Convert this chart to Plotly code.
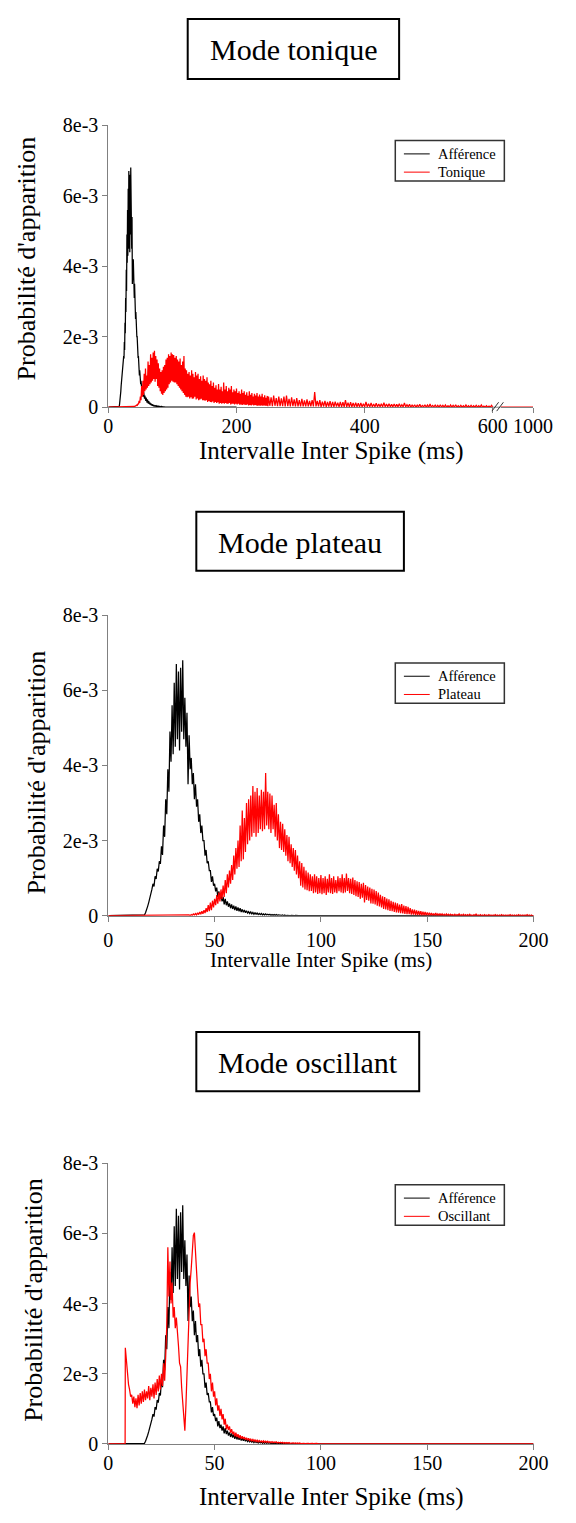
import plotly.graph_objects as go

# ---------------- DATA (probability values in units of 1e-3) ----------------
# Afferent ISI histogram: two readings per 1-ms bin (at k ms and k+0.5 ms)
aff_ms = list(range(17, 91))
aff_a = [0.02, 0.15, 0.35, 0.6, 0.85, 1.05, 1.25, 1.45, 1.85, 2.4,
         3.1, 3.9, 4.9, 5.6, 6.2, 6.7, 6.5, 6.6, 6.8, 5.8,
         5.4, 4.8, 4.2, 3.8, 3.5, 3.1, 2.7, 2.4, 2.0, 1.75,
         1.45, 1.2, 1.05, 0.85, 0.75, 0.65, 0.55, 0.5, 0.45, 0.38,
         0.33, 0.3, 0.27, 0.25, 0.22, 0.2, 0.17, 0.15, 0.13, 0.11,
         0.1, 0.09, 0.08, 0.07, 0.06, 0.06, 0.05, 0.05, 0.04, 0.04,
         0.03, 0.03, 0.03, 0.02, 0.02, 0.02, 0.02, 0.01, 0.01, 0.01,
         0.01, 0.01, 0.0, 0.0]
aff_b = [0.08, 0.25, 0.45, 0.7, 0.78, 0.98, 1.18, 1.38, 1.62, 2.1,
         2.7, 3.3, 4.1, 4.3, 4.5, 4.7, 4.4, 4.9, 4.7, 4.5,
         3.5, 3.9, 3.5, 3.1, 2.9, 2.5, 2.2, 2.0, 1.6, 1.4,
         1.2, 0.9, 0.8, 0.65, 0.5, 0.45, 0.38, 0.3, 0.28, 0.24,
         0.2, 0.18, 0.15, 0.13, 0.12, 0.1, 0.09, 0.08, 0.07, 0.06,
         0.05, 0.04, 0.04, 0.03, 0.03, 0.02, 0.02, 0.02, 0.02, 0.01,
         0.01, 0.01, 0.01, 0.01, 0.01, 0.0, 0.0, 0.0, 0.0, 0.0,
         0.0, 0.0, 0.0, 0.0]

# Tonic mode: two readings per 2-ms bin (40-248 ms), then per 4-ms bin (250-598 ms)
ton_ms = list(range(40, 250, 2))
ton_a = [0.0, 0.03, 0.06, 0.1, 0.18, 0.3, 0.6, 0.75, 0.95, 1.1,
         0.9, 1.3, 1.2, 1.5, 1.4, 1.55, 1.6, 1.45, 1.35, 1.25,
         1.1, 1.0, 1.05, 1.15, 1.2, 1.35, 1.4, 1.5, 1.45, 1.55,
         1.5, 1.48, 1.4, 1.45, 1.35, 1.3, 1.38, 1.2, 1.3, 1.45,
         1.1, 1.05, 0.95, 1.0, 0.9, 1.05, 0.95, 0.85, 1.0, 0.9,
         0.95, 0.8, 0.88, 0.75, 0.9, 0.8, 0.75, 0.85, 0.7, 0.65,
         0.75, 0.6, 0.7, 0.55, 0.62, 0.5, 0.66, 0.5, 0.58, 0.45,
         0.7, 0.5, 0.6, 0.45, 0.55, 0.5, 0.6, 0.42, 0.5, 0.45,
         0.53, 0.4, 0.45, 0.38, 0.5, 0.4, 0.45, 0.35, 0.42, 0.32,
         0.45, 0.35, 0.4, 0.3, 0.38, 0.33, 0.4, 0.3, 0.36, 0.3,
         0.38, 0.28, 0.34, 0.27, 0.32]
ton_b = [0.02, 0.05, 0.04, 0.08, 0.12, 0.2, 0.3, 0.35, 0.45, 0.5,
         0.55, 0.6, 0.65, 0.7, 0.75, 0.8, 0.72, 0.8, 0.6, 0.55,
         0.45, 0.38, 0.35, 0.4, 0.45, 0.5, 0.55, 0.65, 0.7, 0.75,
         0.72, 0.7, 0.7, 0.65, 0.6, 0.55, 0.5, 0.45, 0.4, 0.35,
         0.3, 0.28, 0.3, 0.25, 0.28, 0.24, 0.25, 0.3, 0.22, 0.25,
         0.2, 0.22, 0.24, 0.2, 0.2, 0.18, 0.2, 0.15, 0.18, 0.15,
         0.14, 0.16, 0.12, 0.15, 0.12, 0.14, 0.1, 0.12, 0.1, 0.12,
         0.1, 0.12, 0.1, 0.1, 0.12, 0.08, 0.1, 0.1, 0.08, 0.1,
         0.08, 0.1, 0.07, 0.08, 0.06, 0.08, 0.07, 0.06, 0.08, 0.05,
         0.06, 0.05, 0.07, 0.05, 0.06, 0.05, 0.04, 0.05, 0.04, 0.05,
         0.04, 0.05, 0.04, 0.04, 0.03]
ton2_ms = list(range(250, 600, 4))
ton2_a = [0.3, 0.28, 0.33, 0.26, 0.3, 0.25, 0.3, 0.33, 0.24, 0.28,
          0.22, 0.26, 0.2, 0.24, 0.19, 0.22, 0.18, 0.2, 0.43, 0.18,
          0.2, 0.16, 0.18, 0.15, 0.17, 0.15, 0.16, 0.13, 0.15, 0.14,
          0.2, 0.13, 0.14, 0.12, 0.13, 0.11, 0.12, 0.1, 0.15, 0.1,
          0.12, 0.09, 0.11, 0.09, 0.1, 0.13, 0.09, 0.1, 0.08, 0.09,
          0.08, 0.1, 0.07, 0.12, 0.07, 0.08, 0.06, 0.07, 0.06, 0.08,
          0.05, 0.07, 0.06, 0.09, 0.05, 0.06, 0.05, 0.07, 0.05, 0.06,
          0.04, 0.06, 0.05, 0.07, 0.04, 0.05, 0.04, 0.06, 0.04, 0.05,
          0.04, 0.05, 0.04, 0.06, 0.03, 0.04, 0.03, 0.05]
ton2_b = [0.04, 0.03, 0.04, 0.03, 0.03, 0.03, 0.02, 0.03, 0.02, 0.03,
          0.02, 0.02, 0.02, 0.02, 0.02, 0.02, 0.02, 0.02, 0.02, 0.02,
          0.01, 0.02, 0.01, 0.02, 0.01, 0.01, 0.02, 0.01, 0.01, 0.01,
          0.01, 0.01, 0.01, 0.01, 0.01, 0.01, 0.01, 0.01, 0.01, 0.01,
          0.01, 0.01, 0.01, 0.01, 0.01, 0.01, 0.01, 0.01, 0.01, 0.01,
          0.01, 0.01, 0.01, 0.01, 0.01, 0.0, 0.01, 0.0, 0.01, 0.0,
          0.01, 0.0, 0.0, 0.0, 0.01, 0.0, 0.0, 0.0, 0.0, 0.0,
          0.0, 0.0, 0.0, 0.0, 0.0, 0.0, 0.0, 0.0, 0.0, 0.0,
          0.0, 0.0, 0.0, 0.0, 0.0, 0.0, 0.0, 0.0]
ton_far_ms = [600, 1000]
ton_far = [0.0, 0.0]

# Plateau mode: two readings per 1-ms bin
plat_ms = list(range(38, 201))
plat_a = [0.02, 0.03, 0.05, 0.06, 0.08, 0.1, 0.12, 0.15, 0.2, 0.28,
          0.35, 0.4, 0.45, 0.55, 0.62, 0.7, 0.8, 0.95, 1.1, 1.2,
          1.35, 1.6, 1.8, 2.0, 2.4, 2.8, 2.6, 3.0, 3.1, 3.2,
          3.45, 3.3, 3.4, 3.2, 3.35, 3.3, 3.8, 3.3, 3.25, 3.2,
          2.95, 3.0, 2.7, 2.5, 2.45, 2.3, 2.15, 2.1, 1.9, 1.8,
          1.75, 1.6, 1.45, 1.4, 1.3, 1.2, 1.15, 1.1, 1.05, 1.1,
          1.05, 1.0, 1.08, 1.0, 1.05, 0.98, 1.1, 1.0, 1.05, 0.95,
          1.05, 1.0, 1.1, 1.0, 1.12, 1.0, 0.98, 1.02, 0.95, 0.92,
          0.9, 0.85, 0.88, 0.82, 0.78, 0.75, 0.72, 0.7, 0.66, 0.62,
          0.56, 0.52, 0.5, 0.46, 0.44, 0.4, 0.37, 0.35, 0.33, 0.3,
          0.31, 0.27, 0.26, 0.24, 0.2, 0.17, 0.16, 0.14, 0.13, 0.12,
          0.11, 0.1, 0.09, 0.08, 0.07, 0.06, 0.07, 0.05, 0.06, 0.05,
          0.04, 0.05, 0.04, 0.04, 0.03, 0.04, 0.03, 0.05, 0.03, 0.04,
          0.03, 0.03, 0.04, 0.02, 0.03, 0.05, 0.02, 0.03, 0.02, 0.03,
          0.02, 0.03, 0.02, 0.02, 0.03, 0.02, 0.02, 0.03, 0.02, 0.02,
          0.02, 0.03, 0.02, 0.02, 0.02, 0.03, 0.02, 0.02, 0.02, 0.03,
          0.02, 0.02, 0.0]
plat_b = [0.0, 0.01, 0.02, 0.02, 0.03, 0.04, 0.05, 0.07, 0.1, 0.12,
          0.15, 0.22, 0.28, 0.32, 0.38, 0.45, 0.5, 0.6, 0.75, 0.85,
          0.95, 1.1, 1.25, 1.3, 1.45, 1.5, 1.7, 1.9, 2.0, 2.1,
          2.2, 2.1, 2.2, 2.3, 2.25, 2.3, 2.4, 2.3, 2.2, 2.3,
          2.1, 2.0, 1.8, 1.75, 1.7, 1.6, 1.45, 1.4, 1.3, 1.2,
          1.1, 1.0, 0.8, 0.75, 0.7, 0.68, 0.65, 0.66, 0.6, 0.62,
          0.58, 0.6, 0.57, 0.6, 0.55, 0.62, 0.6, 0.58, 0.62, 0.6,
          0.65, 0.62, 0.6, 0.62, 0.66, 0.6, 0.58, 0.55, 0.52, 0.5,
          0.45, 0.48, 0.35, 0.42, 0.4, 0.33, 0.32, 0.3, 0.27, 0.25,
          0.22, 0.18, 0.17, 0.15, 0.13, 0.12, 0.1, 0.09, 0.08, 0.07,
          0.06, 0.05, 0.04, 0.04, 0.03, 0.03, 0.02, 0.02, 0.02, 0.01,
          0.01, 0.01, 0.01, 0.01, 0.01, 0.01, 0.01, 0.01, 0.01, 0.01,
          0.0, 0.01, 0.0, 0.01, 0.0, 0.0, 0.01, 0.0, 0.0, 0.0,
          0.0, 0.0, 0.0, 0.0, 0.0, 0.0, 0.0, 0.0, 0.0, 0.0,
          0.0, 0.0, 0.0, 0.0, 0.0, 0.0, 0.0, 0.0, 0.0, 0.0,
          0.0, 0.0, 0.0, 0.0, 0.0, 0.0, 0.0, 0.0, 0.0, 0.0,
          0.0, 0.0, 0.0]

# Oscillating mode: two readings per 1-ms bin
osc_ms = list(range(8, 101))
osc_a = [2.74, 2.0, 1.55, 1.4, 1.35, 1.3, 1.4, 1.45, 1.5, 1.55,
         1.5, 1.65, 1.6, 1.7, 1.75, 1.85, 1.95, 2.0, 2.3, 2.5,
         5.6, 5.2, 4.6, 3.9, 3.6, 2.8, 2.2, 1.1, 0.38, 2.1,
         4.0, 5.0, 5.94, 5.4, 4.4, 4.0, 3.4, 3.0, 2.7, 2.3,
         2.0, 1.75, 1.5, 1.3, 1.1, 1.0, 0.85, 0.72, 0.55, 0.5,
         0.42, 0.35, 0.32, 0.28, 0.25, 0.22, 0.2, 0.18, 0.16, 0.14,
         0.13, 0.12, 0.11, 0.1, 0.09, 0.09, 0.08, 0.08, 0.07, 0.07,
         0.06, 0.06, 0.05, 0.05, 0.05, 0.04, 0.04, 0.04, 0.03, 0.03,
         0.03, 0.03, 0.03, 0.02, 0.02, 0.02, 0.02, 0.02, 0.02, 0.02,
         0.02, 0.01, 0.01]
osc_b = [2.3, 1.7, 1.35, 1.15, 1.05, 1.02, 1.1, 1.15, 1.2, 1.25,
         1.3, 1.25, 1.35, 1.3, 1.4, 1.5, 1.55, 1.65, 1.8, 3.4,
         4.2, 4.0, 3.6, 3.3, 3.0, 2.3, 1.6, 0.55, 1.1, 3.0,
         4.6, 5.5, 6.02, 4.6, 3.9, 3.4, 2.9, 2.5, 2.3, 1.85,
         1.5, 1.35, 1.1, 0.95, 0.8, 0.7, 0.55, 0.42, 0.4, 0.32,
         0.28, 0.22, 0.2, 0.17, 0.15, 0.14, 0.12, 0.11, 0.1, 0.09,
         0.08, 0.07, 0.06, 0.06, 0.05, 0.05, 0.05, 0.04, 0.04, 0.04,
         0.04, 0.03, 0.03, 0.03, 0.02, 0.02, 0.02, 0.02, 0.02, 0.02,
         0.01, 0.01, 0.01, 0.01, 0.01, 0.01, 0.01, 0.01, 0.01, 0.01,
         0.01, 0.01, 0.0]

y_tickvals = [0, 0.002, 0.004, 0.006, 0.008]
y_ticktext = ["0", "2e-3", "4e-3", "6e-3", "8e-3"]
titles = ["Mode tonique", "Mode plateau", "Mode oscillant"]
legend_names = [["Afférence", "Tonique"], ["Afférence", "Plateau"], ["Afférence", "Oscillant"]]
x_title = "Intervalle Inter Spike (ms)"
y_title = "Probabilité d'apparition"

# ---------------- helpers ----------------
W, H = 576, 1523
FONT = "Liberation Serif, serif"


def X(px):
    return px / W


def Y(py):
    return 1 - py / H


def series(ms, a, b, half, lead=None, tail=None):
    xs, ys = [], []
    if lead:
        for m, v in lead:
            xs.append(m)
            ys.append(v * 1e-3)
    for m, va, vb in zip(ms, a, b):
        xs += [m, m + half]
        ys += [va * 1e-3, vb * 1e-3]
    if tail:
        for m, v in tail:
            xs.append(m)
            ys.append(v * 1e-3)
    return xs, ys


aff_x, aff_y = series(aff_ms, aff_a, aff_b, 0.5, lead=[(0, 0)], tail=[(200, 0)])
t1x, t1y = series(ton_ms, ton_a, ton_b, 1, lead=[(0, 0)])
t2x, t2y = series(ton2_ms, ton2_a, ton2_b, 2, tail=[(600, 0)])
ton_x, ton_y = t1x + t2x, t1y + t2y
plat_x, plat_y = series(plat_ms, plat_a, plat_b, 0.5, lead=[(0, 0)])
osc_x, osc_y = series(osc_ms, osc_a, osc_b, 0.5, lead=[(0, 0), (7.9, 0)], tail=[(200, 0)])

fig = go.Figure()
BLACK, RED = "#000000", "#ff0000"
LW = 1.25

# Panel 1
fig.add_trace(go.Scatter(x=aff_x, y=aff_y, mode="lines", line=dict(color=BLACK, width=LW),
                         name="Afférence", xaxis="x", yaxis="y"))
fig.add_trace(go.Scatter(x=ton_x, y=ton_y, mode="lines", line=dict(color=RED, width=LW),
                         name="Tonique", xaxis="x", yaxis="y"))
fig.add_trace(go.Scatter(x=ton_far_ms, y=[v * 1e-3 for v in ton_far], mode="lines",
                         line=dict(color=RED, width=LW), name="Tonique",
                         xaxis="x4", yaxis="y"))
# Panel 2
fig.add_trace(go.Scatter(x=aff_x, y=aff_y, mode="lines", line=dict(color=BLACK, width=LW),
                         name="Afférence", xaxis="x2", yaxis="y2"))
fig.add_trace(go.Scatter(x=plat_x, y=plat_y, mode="lines", line=dict(color=RED, width=LW),
                         name="Plateau", xaxis="x2", yaxis="y2"))
# Panel 3
fig.add_trace(go.Scatter(x=aff_x, y=aff_y, mode="lines", line=dict(color=BLACK, width=LW),
                         name="Afférence", xaxis="x3", yaxis="y3"))
fig.add_trace(go.Scatter(x=osc_x, y=osc_y, mode="lines", line=dict(color=RED, width=LW),
                         name="Oscillant", xaxis="x3", yaxis="y3"))

AX = dict(showline=True, linecolor="#808080", linewidth=1, ticks="outside", ticklen=5,
          tickcolor="#808080", showgrid=False, zeroline=False,
          tickfont=dict(family=FONT, size=20, color="black"))

panels = [(116, 402), (613, 918), (1169, 1454)]

layout = dict(width=W, height=H, margin=dict(l=0, r=0, t=0, b=0), autosize=False,
              paper_bgcolor="white", plot_bgcolor="white", showlegend=False,
              font=dict(family=FONT, color="black"))

layout["xaxis"] = dict(AX, domain=[X(108), X(510)], range=[0, 600], anchor="y",
                       tickvals=[0, 200, 400, 600], ticklabelstandoff=-4)
layout["xaxis4"] = dict(AX, domain=[X(518), X(552)], range=[600, 1000], anchor="y",
                        tickvals=[1000], ticklabelstandoff=-4)
layout["xaxis2"] = dict(AX, domain=[X(108), X(552.5)], range=[0, 200], anchor="y2",
                        tickvals=[0, 50, 100, 150, 200], ticklabelstandoff=1)
layout["xaxis3"] = dict(AX, domain=[X(108), X(552.5)], range=[0, 200], anchor="y3",
                        tickvals=[0, 50, 100, 150, 200], ticklabelstandoff=-4)
for i, (top, bot) in enumerate(panels):
    key = "yaxis" if i == 0 else f"yaxis{i + 1}"
    xa = "x" if i == 0 else f"x{i + 1}"
    layout[key] = dict(AX, domain=[Y(bot), Y(top)], range=[0, 0.008], anchor=xa,
                       tickvals=y_tickvals, ticktext=y_ticktext)

fig.update_layout(**layout)

# Legends (box, key lines and labels)
leg_tops = [131.5, 661.5, 1191]
for top, names in zip(leg_tops, legend_names):
    fig.add_shape(type="rect", xref="paper", yref="paper", x0=X(408), x1=X(522),
                  y0=Y(top + 41), y1=Y(top), line=dict(color="#333333", width=1.5),
                  fillcolor="white", layer="above")
    for k, (name, col) in enumerate(zip(names, [BLACK, RED])):
        ry = top + 13.5 + 18.5 * k
        fig.add_shape(type="line", xref="paper", yref="paper", x0=X(417), x1=X(444),
                      y0=Y(ry), y1=Y(ry), line=dict(color=col, width=1))
        fig.add_annotation(text=name, xref="paper", yref="paper", x=X(451), y=Y(ry),
                           xanchor="left", yanchor="middle", showarrow=False,
                           font=dict(family=FONT, size=14.5, color="black"))

# Title boxes
boxes = [(191, 412, 8, 69), (200, 417, 508, 568), (200, 433, 1036, 1096)]
for (x0, x1, y0, y1), t in zip(boxes, titles):
    fig.add_shape(type="rect", xref="paper", yref="paper", x0=X(x0), x1=X(x1),
                  y0=Y(y1), y1=Y(y0), line=dict(color="black", width=2))
    fig.add_annotation(text=t, xref="paper", yref="paper", x=X((x0 + x1) / 2),
                       y=Y((y0 + y1) / 2 + 1), xanchor="center", yanchor="middle",
                       showarrow=False, font=dict(family=FONT, size=30, color="black"))

# Axis titles
xt = [(341, 446, 25), (330, 963, 21), (341, 1508, 25)]
for cx, cy, fs in xt:
    fig.add_annotation(text=x_title, xref="paper", yref="paper", x=X(cx), y=Y(cy),
                       xanchor="center", yanchor="middle", showarrow=False,
                       font=dict(family=FONT, size=fs, color="black"))
yt = [(22, 251), (33, 773), (29, 1308)]
for cx, cy in yt:
    fig.add_annotation(text=y_title, xref="paper", yref="paper", x=X(cx), y=Y(cy),
                       xanchor="center", yanchor="middle", showarrow=False, textangle=-90,
                       font=dict(family=FONT, size=26, color="black"))

# Broken-axis marks on panel 1
fig.add_shape(type="line", xref="paper", yref="paper", x0=X(510), x1=X(518),
              y0=Y(402), y1=Y(402), line=dict(color="#808080", width=1))
for dx in (0, 5):
    fig.add_shape(type="line", xref="paper", yref="paper", x0=X(509 + dx), x1=X(516 + dx),
                  y0=Y(406), y1=Y(397), line=dict(color="#333333", width=1))

fig.write_html("out.html", config={"displayModeBar": False},
               post_script="document.body.style.margin='0';document.body.style.overflow='hidden';")
